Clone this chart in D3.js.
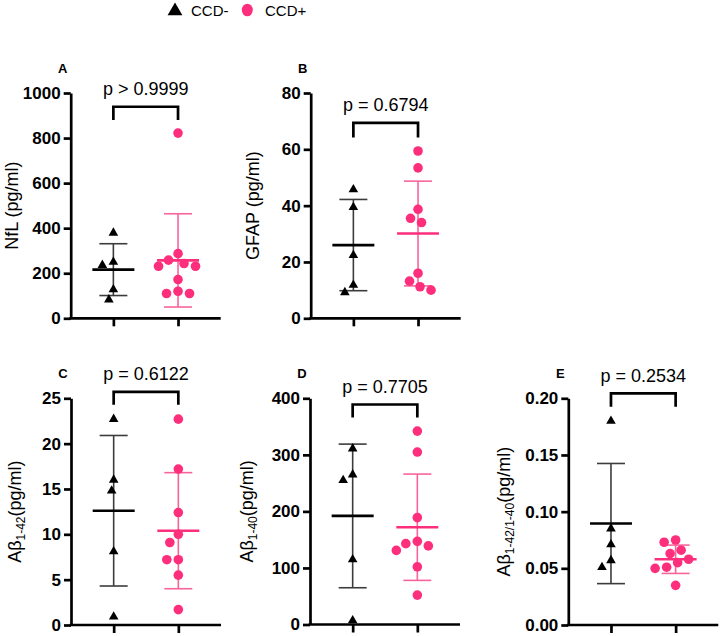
<!DOCTYPE html>
<html>
<head>
<meta charset="utf-8">
<script src="https://cdn.jsdelivr.net/npm/d3@7"></script>
<style>
  body { margin: 0; background: #fff; }
  svg { font-family: "Liberation Sans", Arial, sans-serif; }
</style>
</head>
<body>
<div id="chart"></div>
<script>
// groups
const categories = ['CCD-', 'CCD+'];

// NfL (pg/ml)
const nflNeg = [379, 250, 236, 128, 83];
const nflPos = [822, 287, 258, 231, 231, 243, 172, 110, 120, 110];
const nflMean = [216, 257];
const nflSd = [115, 207];

// GFAP (pg/ml)
const gfapNeg = [45.7, 39.4, 22.4, 9.2, 11.8];
const gfapPos = [59.4, 53.4, 35.5, 38.7, 34.0, 16.0, 13.2, 10.0, 11.2];
const gfapMean = [26.0, 30.1];
const gfapSd = [16.2, 18.6];

// Ab 1-42
const ab42Neg = [22.7, 16.0, 14.8, 8.1, 0.9];
const ab42Pos = [22.7, 17.2, 12.4, 10.0, 9.1, 7.2, 7.2, 5.5, 1.7];
const ab42Mean = [12.6, 10.4];
const ab42Sd = [8.3, 6.4];

// Ab 1-40
const ab40Neg = [311, 255, 265, 115, 7];
const ab40Pos = [342, 305, 189, 139, 147, 131, 143, 102, 52];
const ab40Mean = [192, 172];
const ab40Sd = [127, 94];

// Ab 1-42 / 1-40
const ratioNeg = [0.180, 0.085, 0.071, 0.057, 0.051];
const ratioPos = [0.075, 0.073, 0.066, 0.063, 0.058, 0.055, 0.051, 0.050, 0.035];
const ratioMean = [0.0895, 0.058];
const ratioSd = [0.053, 0.0125];

const pLabels = ['p > 0.9999', 'p = 0.6794', 'p = 0.6122', 'p = 0.7705', 'p = 0.2534'];

const nflTicks = [0, 200, 400, 600, 800, 1000];
const gfapTicks = [0, 20, 40, 60, 80];
const ab42Ticks = [0, 5, 10, 15, 20, 25];
const ab40Ticks = [0, 100, 200, 300, 400];
const ratioTicks = [0, 0.05, 0.10, 0.15, 0.20];

// bracket: [top, leg end] in data units
const panels = [
  {letter: 'A', x0: 70.7, top: 93, bottom: 318.3, ticks: nflTicks, fmt: d3.format('d'),
   title: ['NfL (pg/ml)'], titleDx: -59, neg: nflNeg, pos: nflPos, mean: nflMean, sd: nflSd,
   p: pLabels[0], bracket: [939, 880]},
  {letter: 'B', x0: 310.7, top: 93, bottom: 318.3, ticks: gfapTicks, fmt: d3.format('d'),
   title: ['GFAP (pg/ml)'], titleDx: -58, neg: gfapNeg, pos: gfapPos, mean: gfapMean, sd: gfapSd,
   p: pLabels[1], bracket: [69.4, 64.2]},
  {letter: 'C', x0: 71, top: 398.3, bottom: 625, ticks: ab42Ticks, fmt: d3.format('d'),
   title: ['Aβ', '1-42', '(pg/ml)'], titleDx: -56, neg: ab42Neg, pos: ab42Pos, mean: ab42Mean, sd: ab42Sd,
   p: pLabels[2], bracket: [25.7, 24.3]},
  {letter: 'D', x0: 310, top: 398.3, bottom: 624.5, ticks: ab40Ticks, fmt: d3.format('d'),
   title: ['Aβ', '1-40', '(pg/ml)'], titleDx: -63, neg: ab40Neg, pos: ab40Pos, mean: ab40Mean, sd: ab40Sd,
   p: pLabels[3], bracket: [389, 366]},
  {letter: 'E', x0: 568.3, top: 398.3, bottom: 625, ticks: ratioTicks, fmt: d3.format('.2f'),
   title: ['Aβ', '1-42/1-40', '(pg/ml)'], titleDx: -65, neg: ratioNeg, pos: ratioPos, mean: ratioMean, sd: ratioSd,
   p: pLabels[4], bracket: [0.2044, 0.1926]}
];

const pink = '#fd2f7c';
const pinkLine = '#f7649c';
const greyLine = '#3c3c3c';
const axisW = 150;

const svg = d3.select('#chart').append('svg')
  .attr('width', 720)
  .attr('height', 636);

// legend
const legend = svg.append('g');
legend.append('path')
  .attr('d', d3.symbol(d3.symbolTriangle, 95)())
  .attr('transform', 'translate(175,11)')
  .attr('fill', '#000');
legend.append('text').attr('x', 191).attr('y', 16)
  .attr('font-size', '15px').text('CCD-');
legend.append('ellipse').attr('cx', 247.3).attr('cy', 10)
  .attr('rx', 5.5).attr('ry', 6.3).attr('fill', pink);
legend.append('text').attr('x', 265).attr('y', 16)
  .attr('font-size', '15px').text('CCD+');

// simple beeswarm: smallest horizontal offset without overlap
function swarm(values, y, diam) {
  const order = d3.range(values.length).sort((a, b) => values[b] - values[a]);
  const placed = [];
  const out = new Array(values.length);
  order.forEach(i => {
    const py = y(values[i]);
    let dx = 0;
    for (let k = 0; k < 400; k++) {
      const cand = (k % 2 === 0 ? 1 : -1) * Math.ceil(k / 2) * 0.5;
      const ok = placed.every(p => (p.dx - cand) ** 2 + (p.y - py) ** 2 >= diam * diam);
      if (ok) { dx = cand; break; }
    }
    placed.push({dx: dx, y: py});
    out[i] = dx;
  });
  return out;
}

panels.forEach(pn => {
  const g = svg.append('g');
  const y = d3.scaleLinear()
    .domain([pn.ticks[0], pn.ticks[pn.ticks.length - 1]])
    .range([pn.bottom, pn.top]);
  const x = d3.scalePoint()
    .domain(categories)
    .range([pn.x0, pn.x0 + axisW])
    .padding(0.66);

  // y axis
  const yAxis = g.append('g')
    .attr('transform', `translate(${pn.x0},0)`)
    .call(d3.axisLeft(y).tickValues(pn.ticks).tickFormat(pn.fmt).tickSize(7).tickSizeOuter(0).tickPadding(3));
  yAxis.select('.domain').attr('stroke', '#000').attr('stroke-width', 2.7);
  yAxis.selectAll('.tick line').attr('stroke', '#000').attr('stroke-width', 2.7);
  yAxis.selectAll('.tick text')
    .attr('fill', '#000')
    .attr('font-size', '17px')
    .attr('font-weight', 'bold')
    .attr('font-family', '"Liberation Sans", Arial, sans-serif');

  // x axis
  const xAxis = g.append('g')
    .attr('transform', `translate(0,${pn.bottom})`)
    .call(d3.axisBottom(x).tickSize(8).tickFormat(''));
  xAxis.select('.domain').remove();
  xAxis.selectAll('.tick line').attr('stroke', '#000').attr('stroke-width', 2.7);
  g.append('line')
    .attr('x1', pn.x0 - 1.35).attr('x2', pn.x0 + axisW)
    .attr('y1', pn.bottom).attr('y2', pn.bottom)
    .attr('stroke', '#000').attr('stroke-width', 2.7);

  // axis title
  const t = g.append('text')
    .attr('transform', `translate(${pn.x0 + pn.titleDx},${(pn.top + pn.bottom) / 2}) rotate(-90)`)
    .attr('text-anchor', 'middle')
    .attr('dy', '0.35em')
    .attr('font-size', '18px');
  if (pn.title.length === 1) {
    t.text(pn.title[0]);
  } else {
    t.append('tspan').text(pn.title[0]);
    t.append('tspan').attr('font-size', '12px').attr('dy', '4').text(pn.title[1]);
    t.append('tspan').attr('dy', '-4').text(pn.title[2]);
  }

  // panel letter
  g.append('text')
    .attr('x', pn.x0 - 8).attr('y', pn.top - 20)
    .attr('text-anchor', 'middle')
    .attr('font-size', '13px').attr('font-weight', 'bold')
    .text(pn.letter);

  // bracket + p value
  const bx1 = x(categories[0]), bx2 = x(categories[1]);
  const bt = y(pn.bracket[0]), bl = y(pn.bracket[1]);
  g.append('path')
    .attr('d', `M${bx1},${bl}V${bt}H${bx2}V${bl}`)
    .attr('fill', 'none').attr('stroke', '#000').attr('stroke-width', 2.7);
  g.append('text')
    .attr('x', (bx1 + bx2) / 2).attr('y', bt - 11.5)
    .attr('text-anchor', 'middle')
    .attr('font-size', '18px')
    .text(pn.p);

  // mean +/- SD
  [0, 1].forEach(i => {
    const cx = x(categories[i]);
    const col = i === 0 ? greyLine : pinkLine;
    const m = pn.mean[i], s = pn.sd[i];
    g.append('line')
      .attr('x1', cx).attr('x2', cx)
      .attr('y1', y(m + s)).attr('y2', y(m - s))
      .attr('stroke', col).attr('stroke-width', 1.6);
    [m + s, m - s].forEach(v => {
      g.append('line')
        .attr('x1', cx - 14).attr('x2', cx + 14)
        .attr('y1', y(v)).attr('y2', y(v))
        .attr('stroke', col).attr('stroke-width', 1.6);
    });
    g.append('line')
      .attr('x1', cx - 21).attr('x2', cx + 21)
      .attr('y1', y(m)).attr('y2', y(m))
      .attr('stroke', i === 0 ? '#000' : pink).attr('stroke-width', 2.6);
  });

  // points
  const negDx = swarm(pn.neg, y, 11);
  g.selectAll('path.neg')
    .data(pn.neg)
    .enter()
    .append('path')
    .attr('class', 'neg')
    .attr('d', d3.symbol(d3.symbolTriangle, 40)())
    .attr('transform', (d, i) => `translate(${x(categories[0]) + negDx[i]},${y(d)})`)
    .attr('fill', '#000');

  const posDx = swarm(pn.pos, y, 11.5);
  g.selectAll('circle.pos')
    .data(pn.pos)
    .enter()
    .append('circle')
    .attr('class', 'pos')
    .attr('cx', (d, i) => x(categories[1]) + posDx[i])
    .attr('cy', d => y(d))
    .attr('r', 4.8)
    .attr('fill', pink);
});
</script>
</body>
</html>
